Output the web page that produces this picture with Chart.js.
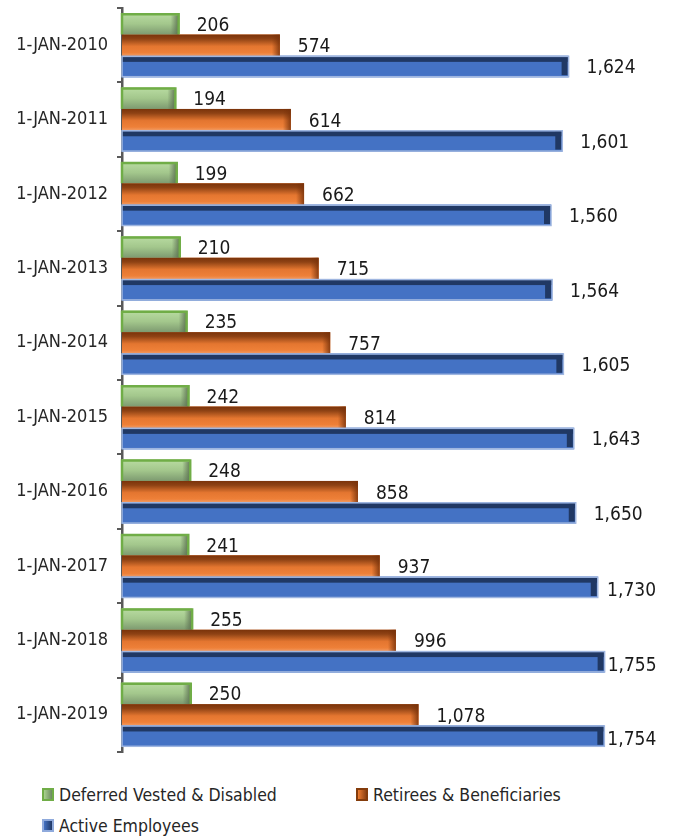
<!DOCTYPE html>
<html>
<head>
<meta charset="utf-8">
<script src="https://cdn.jsdelivr.net/npm/chart.js@4.4.1/dist/chart.umd.min.js"></script>
<style>
  html, body { margin: 0; padding: 0; background: #fff; }
  #wrap { position: relative; width: 673px; height: 840px; }
  #box { position: absolute; left: 0; top: 0; width: 673px; height: 760px; }
  #legend {
    position: absolute; left: 42px; top: 779px; width: 630px;
    display: flex; flex-wrap: wrap;
    font-family: 'Liberation Sans Narrow', 'DejaVu Sans Condensed', 'Arial Narrow', sans-serif;
    font-size: 17.5px; color: #262626;
  }
  .item { width: 314px; height: 31px; display: flex; align-items: center; }
  .swatch { width: 12px; height: 13px; margin-right: 5px; box-sizing: border-box; }
</style>
</head>
<body>
<div id="wrap">
  <div id="box"><canvas id="chart"></canvas></div>
  <div id="legend"></div>
</div>
<script>
const FONT = "'Liberation Sans Narrow', 'DejaVu Sans Condensed', 'Arial Narrow', sans-serif";

const years     = ['1-JAN-2010', '1-JAN-2011', '1-JAN-2012', '1-JAN-2013', '1-JAN-2014',
                   '1-JAN-2015', '1-JAN-2016', '1-JAN-2017', '1-JAN-2018', '1-JAN-2019'];
const deferred  = [206, 194, 199, 210, 235, 242, 248, 241, 255, 250];
const retirees  = [574, 614, 662, 715, 757, 814, 858, 937, 996, 1078];
const active    = [1624, 1601, 1560, 1564, 1605, 1643, 1650, 1730, 1755, 1754];
const seriesNames = ['Deferred Vested & Disabled', 'Retirees & Beneficiaries', 'Active Employees'];

const GREEN  = '#a9d18e';
const ORANGE = '#ed7d31';
const BLUE   = '#4472c4';
const AXIS   = '#595959';
const TEXT   = '#262626';
const LABEL_RIGHT = 656;   // labels are pushed back inside this edge

// 3D-ish shading drawn over each bar, per series
function shadeBar(ctx, s, l, r, t, b) {
  const h = b - t;
  let g;
  if (s === 0) {
    g = ctx.createLinearGradient(0, t, 0, b);
    g.addColorStop(0, '#b9dca2');
    g.addColorStop(0.5, '#a3c78c');
    g.addColorStop(1, '#7d9a70');
    ctx.fillStyle = g;
    ctx.fillRect(l, t, r - l, h);
    g = ctx.createLinearGradient(r - 8, 0, r, 0);
    g.addColorStop(0, 'rgba(90,110,80,0)');
    g.addColorStop(1, 'rgba(90,110,80,0.9)');
    ctx.fillStyle = g;
    ctx.fillRect(r - 8, t + 2, 8, h - 2);
    ctx.strokeStyle = '#70ad47';
    ctx.lineWidth = 2.5;
    ctx.beginPath();
    ctx.moveTo(l, b); ctx.lineTo(l, t + 1); ctx.lineTo(r, t + 1); ctx.lineTo(r, b);
    ctx.stroke();
  } else if (s === 1) {
    g = ctx.createLinearGradient(0, t, 0, b);
    g.addColorStop(0, '#7a330a');
    g.addColorStop(0.2, '#8e4214');
    g.addColorStop(0.55, '#e47630');
    g.addColorStop(0.85, '#ee8038');
    g.addColorStop(1, '#f19a62');
    ctx.fillStyle = g;
    ctx.fillRect(l, t, r - l, h);
    g = ctx.createLinearGradient(r - 8, 0, r, 0);
    g.addColorStop(0, 'rgba(120,50,10,0)');
    g.addColorStop(1, 'rgba(120,50,10,0.85)');
    ctx.fillStyle = g;
    ctx.fillRect(r - 8, t, 8, h);
  } else {
    ctx.fillStyle = BLUE;
    ctx.fillRect(l, t, r - l, h);
    ctx.fillStyle = '#203864';
    ctx.fillRect(l, t + 1, r - l, 5);
    ctx.fillRect(r - 7, t + 1, 6, h - 3);
    ctx.strokeStyle = '#9fb6e0';
    ctx.lineWidth = 1.5;
    ctx.strokeRect(l, t + 0.5, r - l, h - 1);
  }
}

const bevel = {
  id: 'bevel',
  afterDatasetsDraw(chart) {
    const ctx = chart.ctx;
    ctx.save();
    chart.data.datasets.forEach((ds, s) => {
      chart.getDatasetMeta(s).data.forEach(el => {
        const t = el.y - el.height / 2, b = el.y + el.height / 2;
        shadeBar(ctx, s, el.base, el.x, t, b);
      });
    });
    // value labels
    ctx.font = '19px ' + FONT;
    ctx.fillStyle = '#1a1a1a';
    ctx.textBaseline = 'middle';
    ctx.textAlign = 'left';
    chart.data.datasets.forEach((ds, s) => {
      chart.getDatasetMeta(s).data.forEach((el, i) => {
        const txt = ds.data[i].toLocaleString('en-US');
        const w = ctx.measureText(txt).width;
        let x = el.x + 18, y = el.y + 2;
        if (x + w > LABEL_RIGHT) {
          x = Math.max(LABEL_RIGHT - w, el.x + 3);
          y = el.y + 4;
        }
        ctx.fillText(txt, x, y);
      });
    });
    ctx.restore();
  }
};

const chart = new Chart(document.getElementById('chart'), {
  type: 'bar',
  data: {
    labels: years,
    datasets: [
      { label: seriesNames[0], data: deferred, backgroundColor: GREEN },
      { label: seriesNames[1], data: retirees, backgroundColor: ORANGE },
      { label: seriesNames[2], data: active,   backgroundColor: BLUE }
    ]
  },
  options: {
    indexAxis: 'y',
    responsive: true,
    maintainAspectRatio: false,
    animation: false,
    categoryPercentage: 0.86,
    barPercentage: 1.0,
    layout: { padding: { top: 8, right: 1, bottom: 8, left: 0 } },
    plugins: { legend: { display: false }, tooltip: { enabled: false } },
    scales: {
      x: { display: false, min: 0, max: 2000 },
      y: {
        grid: { display: true, drawOnChartArea: false, drawTicks: true, tickLength: 5,
                color: AXIS, lineWidth: 2, offset: true },
        border: { display: true, color: AXIS, width: 2.5 },
        ticks: { color: TEXT, font: { family: FONT, size: 18 }, padding: 9 },
        afterFit: scale => {
          scale.width = 122;
          scale.paddingTop = 0;
          scale.paddingBottom = 0;
        }
      }
    }
  },
  plugins: [bevel]
});

// legend
const swatchCss = [
  'background: linear-gradient(90deg,#a9d18e,#6d8a60); border: 2px solid #70ad47;',
  'background: linear-gradient(90deg,#ed7d31,#8e4214); border: 2px solid #843c0c;',
  'background: linear-gradient(90deg,#4472c4,#203864); border: 2px solid #8faadc;'
];
const legend = document.getElementById('legend');
chart.data.datasets.forEach((ds, i) => {
  const it = document.createElement('div');
  it.className = 'item';
  it.innerHTML = '<span class="swatch" style="' + swatchCss[i] + '"></span>' + ds.label.replace('&', '&amp;');
  legend.appendChild(it);
});
</script>
</body>
</html>
